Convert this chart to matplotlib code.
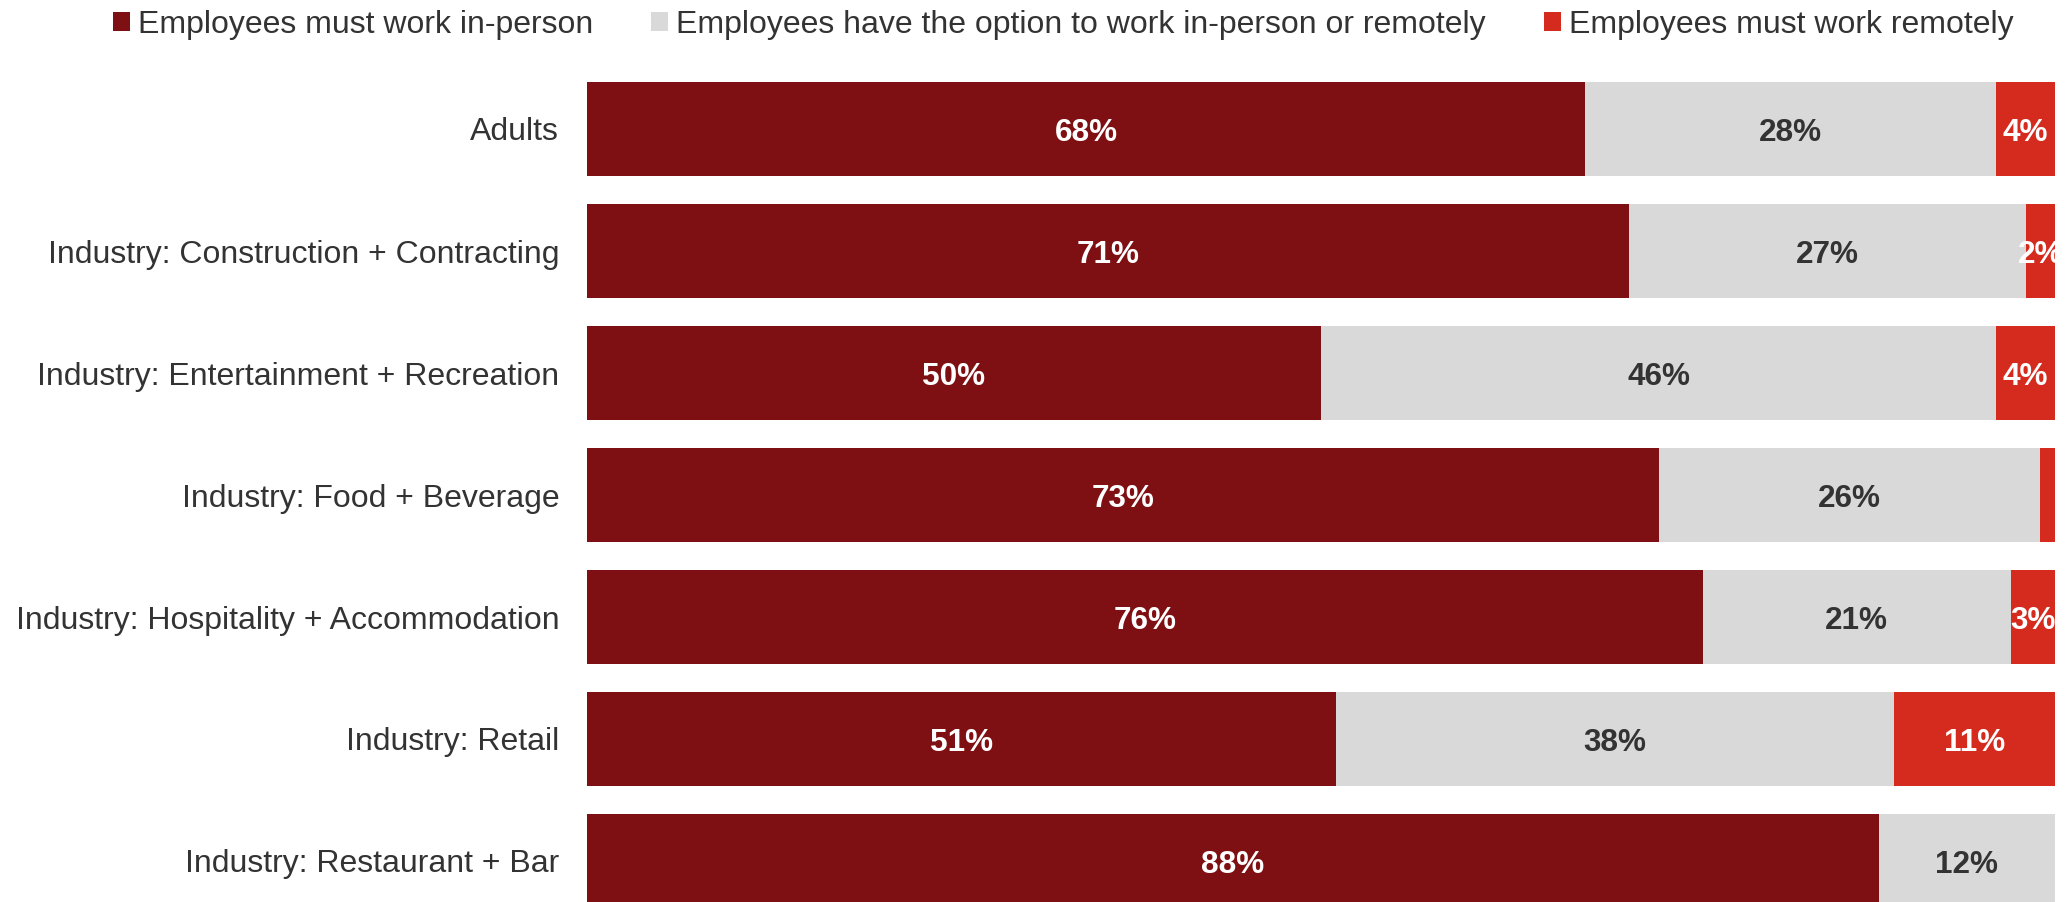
import matplotlib
matplotlib.use("Agg")
import matplotlib.pyplot as plt
from matplotlib.patches import Patch
from matplotlib.transforms import offset_copy
import numpy as np

plt.rcParams['font.family'] = ['Liberation Sans', 'DejaVu Sans']

categories = [
    "Adults",
    "Industry: Construction + Contracting",
    "Industry: Entertainment + Recreation",
    "Industry: Food + Beverage",
    "Industry: Hospitality + Accommodation",
    "Industry: Retail",
    "Industry: Restaurant + Bar",
]
in_person = [68, 71, 50, 73, 76, 51, 88]
optional = [28, 27, 46, 26, 21, 38, 12]
remote = [4, 2, 4, 1, 3, 11, 0]

series_names = [
    "Employees must work in-person",
    "Employees have the option to work in-person or remotely",
    "Employees must work remotely",
]
colors = ["#7E0F12", "#D9D9D9", "#D52B1F"]
label_colors = ["white", "#333333", "white"]
text_color = "#333333"

W, H = 2067, 902
fig = plt.figure(figsize=(W / 100, H / 100), dpi=100)

# axes spans bars from the label column to the right edge, bottom bar runs off the canvas
ax = fig.add_axes([587 / W, 0, (2055 - 587) / W, (902 - 60) / H])
ypos = np.arange(len(categories))
bar_h = 0.77

# value labels sit a touch below the bar centre
label_tf = offset_copy(ax.transData, fig=fig, x=0, y=-4, units="dots")

left = np.zeros(len(categories))
for vals, col, lcol in zip([in_person, optional, remote], colors, label_colors):
    vals = np.array(vals, dtype=float)
    ax.barh(ypos, vals, left=left, height=bar_h, color=col, linewidth=0)
    for y, v, l in zip(ypos, vals, left):
        if v >= 2:
            ax.text(l + v / 2, y, f"{int(v)}%", ha="center", va="center",
                    color=lcol, fontsize=22.7, fontweight="bold",
                    transform=label_tf)
    left += vals

ax.set_xlim(0, 100)
ax.set_ylim((902 - 129) / 122, (60 - 129) / 122)
ax.set_yticks(ypos)
ax.set_yticklabels(categories, fontsize=23, color=text_color)
ax.tick_params(axis="y", length=0, pad=20)
ax.set_xticks([])
for s in ax.spines.values():
    s.set_visible(False)
ax.patch.set_alpha(0)

handles = [Patch(facecolor=c, edgecolor="none") for c in colors]
fig.legend(handles, series_names, loc="center left",
           bbox_to_anchor=(113 / W, 1 - 25 / H), ncol=3, frameon=False,
           fontsize=23, labelcolor=text_color, handlelength=0.53,
           handleheight=0.55, handletextpad=0.25, columnspacing=1.82,
           borderpad=0, borderaxespad=0)

fig.savefig("out.png", dpi=100)
